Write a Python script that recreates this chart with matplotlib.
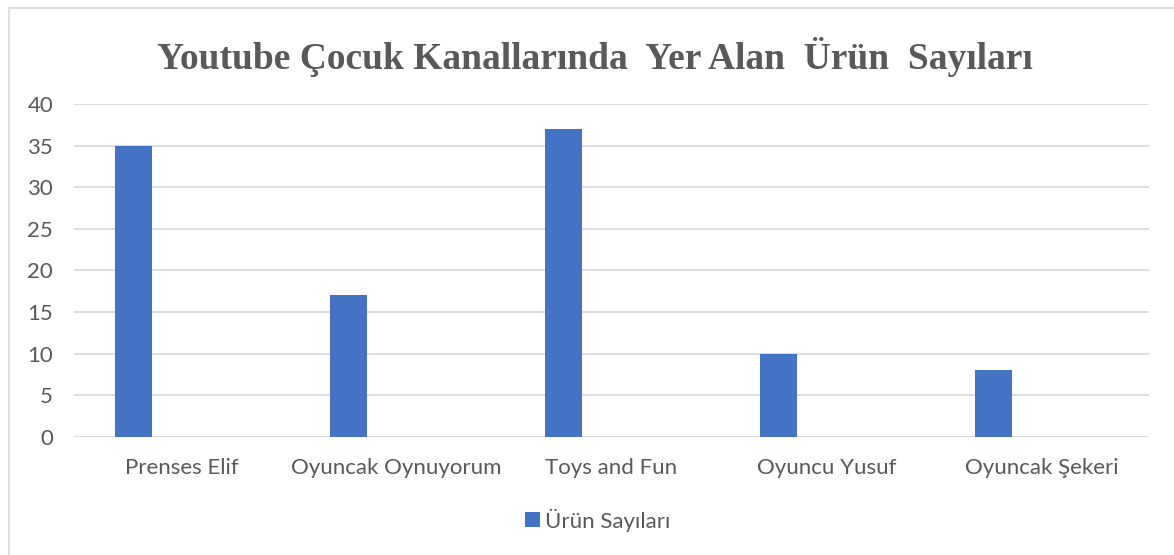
import matplotlib
matplotlib.use("Agg")
import matplotlib.pyplot as plt
from matplotlib.patches import Rectangle
import numpy as np

categories = ["Prenses Elif", "Oyuncak Oynuyorum", "Toys and Fun", "Oyuncu Yusuf", "Oyuncak Şekeri"]
values = [35, 17, 37, 10, 8]
series_name = "Ürün Sayıları"
title = "Youtube Çocuk Kanallarında  Yer Alan  Ürün  Sayıları"
yticks = [0, 5, 10, 15, 20, 25, 30, 35, 40]

W, H = 1174, 555
fig = plt.figure(figsize=(W/100, H/100), dpi=100)
fig.patch.set_facecolor("white")

# outer chart frame
fig.patches.append(Rectangle((9/W, -0.05), 1.2, 1 - 8/H + 0.05, transform=fig.transFigure,
                             fill=False, edgecolor="#d9d9d9", linewidth=1.2))

ax = fig.add_axes([74/W, 1 - 436.7/H, (1149-74)/W, (436.7-104)/H])
x = np.arange(len(categories))
ax.bar(x - 0.223, values, width=0.172, color="#4472c4", label=series_name, zorder=3)
ax.set_xlim(-0.5, len(categories) - 0.5)
ax.set_ylim(0, 40)
ax.set_yticks(yticks)
ax.set_xticks(x)
ax.set_xticklabels(categories)
for s in ax.spines.values():
    s.set_visible(False)
ax.yaxis.grid(True, color="#d9d9d9", linewidth=1.3, zorder=0)
ax.tick_params(axis="both", length=0, labelcolor="#595959", labelsize=16)
ax.tick_params(axis="y", pad=15)
ax.tick_params(axis="x", pad=15)
for lab in ax.get_xticklabels() + ax.get_yticklabels():
    lab.set_fontfamily("Lato")

fig.text(595/W, 1 - 57/H, title, ha="center", va="center", fontsize=27,
         fontweight="bold", family="Liberation Serif", color="#595959")

leg = fig.legend(loc="center", bbox_to_anchor=(598/W, 1 - 520/H), frameon=False,
                 prop={"family": "Lato", "size": 16}, handlelength=0.65, handleheight=0.65,
                 handletextpad=0.25, borderpad=0)
for t in leg.get_texts():
    t.set_color("#595959")

fig.savefig("out.png", dpi=100)
